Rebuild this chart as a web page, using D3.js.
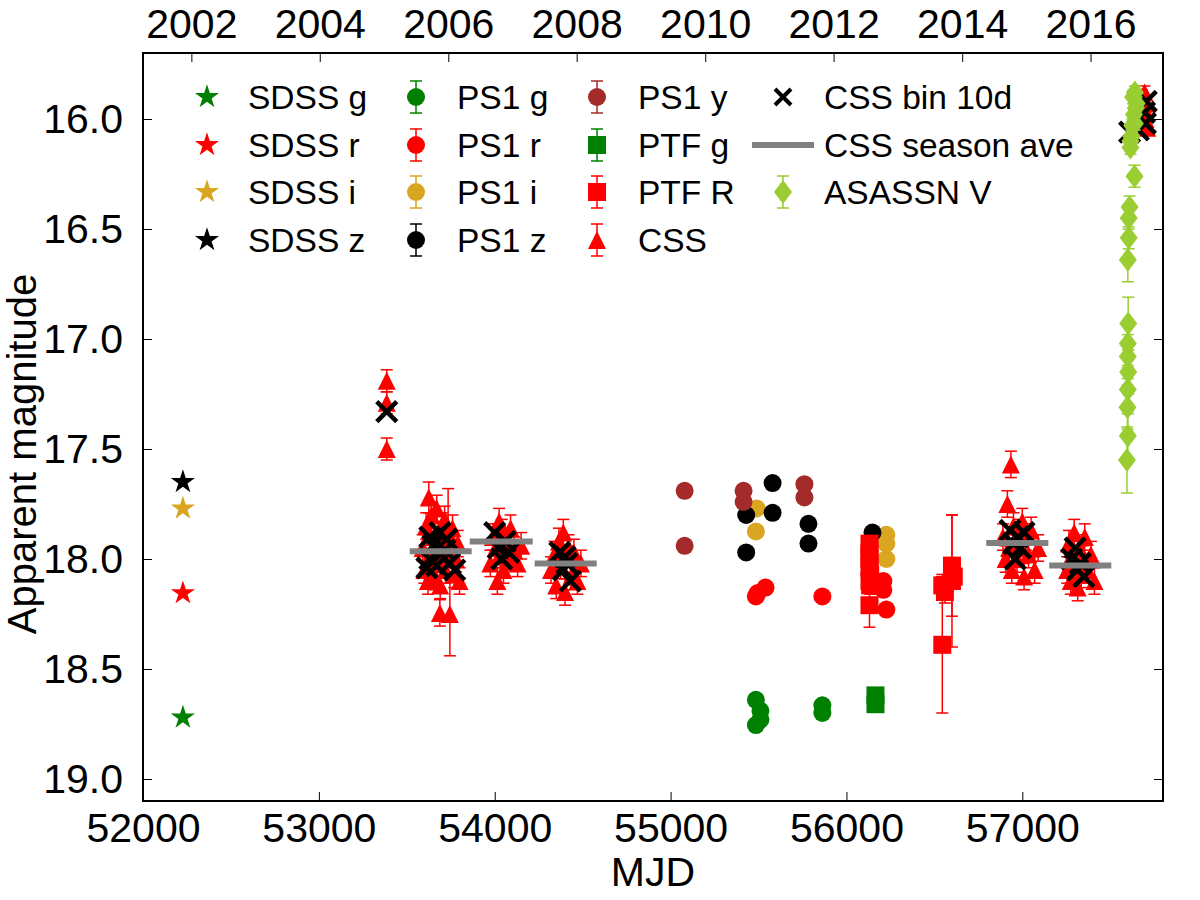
<!DOCTYPE html>
<html>
<head>
<meta charset="utf-8">
<script src="https://cdn.jsdelivr.net/npm/d3@7"></script>
<style>
  body { margin: 0; background: #fff; }
  svg text { font-family: "Liberation Sans", Arial, sans-serif; }
</style>
</head>
<body>
<svg id="chart" width="1200" height="900"></svg>
<script>
// light curve: MJD vs apparent magnitude

const xTicks = [52000, 53000, 54000, 55000, 56000, 57000];
const yTicks = [16.0, 16.5, 17.0, 17.5, 18.0, 18.5, 19.0];
const yearTicks = [2002, 2004, 2006, 2008, 2010, 2012, 2014, 2016];

// [mjd, mag]
const sdssG = [[52227, 18.72]];
const sdssR = [[52227, 18.155]];
const sdssI = [[52227, 17.77]];
const sdssZ = [[52227, 17.65]];

const ps1G = [[55485, 18.64], [55511, 18.69], [55511, 18.73], [55485, 18.755], [55863, 18.665], [55863, 18.70]];
const ps1R = [[55485, 18.17], [55540, 18.13], [55495, 18.155], [55863, 18.17], [56210, 18.10], [56210, 18.14], [56227, 18.23]];
const ps1I = [[55489, 17.77], [55485, 17.875], [56227, 17.89], [56227, 17.93], [56227, 18.0]];
const ps1Z = [[55580, 17.655], [55580, 17.79], [55430, 17.80], [55430, 17.97], [55784, 17.84], [55784, 17.93], [56148, 17.88]];
const ps1Y = [[55080, 17.69], [55080, 17.94], [55415, 17.69], [55415, 17.74], [55761, 17.66], [55761, 17.72]];

// [mjd, mag, err]
const ptfG = [[56165, 18.62, 0.02], [56165, 18.66, 0.02]];
const ptfR = [
  [56131, 17.93, 0.03], [56131, 17.97, 0.03], [56131, 18.0, 0.03], [56131, 18.04, 0.03],
  [56135, 18.07, 0.03], [56131, 18.1, 0.03], [56135, 18.12, 0.04], [56131, 18.21, 0.1],
  [56545, 18.39, 0.31], [56545, 18.12, 0.05], [56560, 18.15, 0.05], [56600, 18.03, 0.23],
  [56610, 18.08, 0.05], [56600, 18.1, 0.3]
];

const css = [
  [53386, 17.19, 0.05], [53386, 17.29, 0.05], [53386, 17.5, 0.05],
  [53590, 17.95, 0.06], [53600, 18.05, 0.06], [53610, 17.85, 0.06], [53620, 18.10, 0.06],
  [53625, 17.72, 0.07], [53635, 17.98, 0.06], [53640, 17.80, 0.06], [53650, 18.02, 0.06],
  [53655, 17.90, 0.06], [53660, 18.08, 0.06], [53670, 17.77, 0.06], [53680, 17.95, 0.06],
  [53690, 18.12, 0.06], [53700, 17.85, 0.06], [53705, 18.00, 0.06], [53715, 17.82, 0.06],
  [53720, 18.05, 0.06], [53730, 17.93, 0.06], [53735, 17.88, 0.2], [53745, 18.25, 0.19],
  [53688, 18.245, 0.06], [53750, 17.98, 0.06], [53760, 17.86, 0.06], [53770, 18.07, 0.06],
  [53780, 18.0, 0.06], [53790, 17.93, 0.06], [53800, 18.1, 0.06],
  [53975, 18.02, 0.06], [53990, 17.9, 0.06], [54005, 17.95, 0.06], [54015, 18.1, 0.06],
  [54025, 17.83, 0.06], [54030, 17.98, 0.06], [54040, 17.88, 0.06], [54050, 18.05, 0.06],
  [54060, 17.92, 0.06], [54075, 17.99, 0.06], [54090, 17.86, 0.06], [54110, 17.96, 0.06],
  [54130, 18.02, 0.06], [54150, 17.94, 0.06],
  [54320, 18.05, 0.06], [54340, 17.98, 0.06], [54350, 18.12, 0.06], [54365, 17.92, 0.06],
  [54375, 18.03, 0.06], [54390, 17.88, 0.06], [54400, 18.15, 0.06], [54410, 18.0, 0.06],
  [54420, 17.95, 0.06], [54435, 18.08, 0.06], [54450, 17.97, 0.06], [54470, 18.1, 0.06],
  [54490, 18.02, 0.06],
  [56890, 17.9, 0.06], [56905, 18.0, 0.06], [56915, 17.75, 0.06], [56925, 17.95, 0.06],
  [56935, 17.57, 0.06], [56940, 18.05, 0.06], [56950, 17.85, 0.06], [56960, 17.92, 0.06],
  [56970, 18.0, 0.06], [56980, 17.88, 0.06], [56990, 17.95, 0.06], [57000, 17.83, 0.06],
  [57010, 18.08, 0.06], [57020, 17.9, 0.06], [57035, 17.98, 0.06], [57050, 17.87, 0.06],
  [57070, 18.05, 0.06], [57090, 17.95, 0.06],
  [57255, 18.05, 0.06], [57265, 17.93, 0.06], [57275, 18.1, 0.06], [57285, 17.98, 0.06],
  [57295, 17.88, 0.06], [57305, 18.03, 0.06], [57315, 18.13, 0.06], [57325, 17.95, 0.06],
  [57335, 18.07, 0.06], [57345, 18.0, 0.06], [57355, 17.9, 0.06], [57370, 18.05, 0.06],
  [57390, 17.98, 0.06], [57410, 18.1, 0.06],
  [57680, 15.9, 0.03], [57690, 15.95, 0.03], [57700, 16.0, 0.03], [57705, 15.93, 0.03],
  [57710, 16.04, 0.03], [57695, 15.88, 0.03]
];

const cssBin = [
  [53386, 17.33],
  [53614, 18.04], [53631, 17.90], [53631, 18.0], [53648, 17.94], [53670, 18.03], [53688, 17.88],
  [53716, 17.96], [53727, 17.91], [53744, 18.02], [53773, 18.05],
  [54000, 17.88], [54020, 17.95], [54040, 18.0], [54060, 17.92], [54080, 17.97],
  [54370, 17.97], [54390, 18.05], [54410, 18.02], [54430, 18.1], [54400, 17.99],
  [56930, 17.87], [56950, 17.93], [56960, 18.0], [56975, 17.9], [56990, 17.95], [57010, 17.88],
  [57280, 18.0], [57300, 17.95], [57315, 18.05], [57330, 18.02], [57350, 18.08],
  [57610, 16.06], [57660, 16.05], [57695, 15.97], [57705, 15.92], [57700, 16.02]
];

// [start, end, mag]
const cssSeason = [
  [53517, 53869, 17.965], [53858, 54216, 17.92], [54227, 54580, 18.02],
  [56795, 57148, 17.927], [57153, 57506, 18.03]
];

const asassn = [
  [57640, 15.88, 0.03], [57650, 15.93, 0.03], [57635, 15.98, 0.03], [57625, 16.03, 0.03],
  [57620, 16.08, 0.03], [57615, 16.13, 0.03], [57640, 16.02, 0.03], [57630, 15.9, 0.03],
  [57615, 16.1, 0.03], [57645, 15.95, 0.03],
  [57638, 16.26, 0.05], [57610, 16.4, 0.05], [57605, 16.45, 0.05], [57605, 16.54, 0.05],
  [57600, 16.64, 0.1], [57602, 16.93, 0.12], [57600, 17.02, 0.1], [57600, 17.08, 0.1],
  [57602, 17.15, 0.1], [57600, 17.23, 0.1], [57598, 17.31, 0.1], [57600, 17.44, 0.1],
  [57595, 17.55, 0.15]
];

const C = {
  green: "#008000", red: "#ff0000", gold: "#daa520", black: "#000000",
  brown: "#a52a2a", lime: "#9acd32", gray: "#808080"
};

const W = 1200, H = 900;
const margin = { left: 143, right: 37, top: 53, bottom: 99 };
const svg = d3.select("#chart");

const x = d3.scaleLinear().domain([52000, 57800]).range([margin.left, W - margin.right]);
const y = d3.scaleLinear().domain([15.7, 19.1]).range([margin.top, H - margin.bottom]);
const mjdOfYear = (yr) => (Date.UTC(yr, 0, 1) - Date.UTC(1858, 10, 17)) / 86400000;

const plot = svg.append("g");

// marker shapes
const starPath = d3.symbol(d3.symbolStar, 180)();
const circlePath = d3.symbol(d3.symbolCircle, Math.PI * 81)();
const trianglePath = "M0,-9L9,9L-9,9Z";
const squarePath = "M-9,-9H9V9H-9Z";
const diamondPath = "M0,-12L9,0L0,12L-9,0Z";
const crossPath = "M-10,-10L10,10M-10,10L10,-10";

function errorbars(g, data, color, cap = 6) {
  const eb = g.append("g").attr("stroke", color).attr("stroke-width", 1.5);
  data.forEach((d) => {
    const y1 = y(d[1] - d[2]), y2 = y(d[1] + d[2]), cx = x(d[0]);
    eb.append("line").attr("x1", cx).attr("x2", cx).attr("y1", y1).attr("y2", y2);
    eb.append("line").attr("x1", cx - cap).attr("x2", cx + cap).attr("y1", y1).attr("y2", y1);
    eb.append("line").attr("x1", cx - cap).attr("x2", cx + cap).attr("y1", y2).attr("y2", y2);
  });
}

function markers(g, data, path, color) {
  g.append("g").selectAll("path").data(data).enter().append("path")
    .attr("d", path)
    .attr("fill", color)
    .attr("transform", (d) => `translate(${x(d[0])},${y(d[1])})`);
}

markers(plot, sdssG, starPath, C.green);
markers(plot, sdssR, starPath, C.red);
markers(plot, sdssI, starPath, C.gold);
markers(plot, sdssZ, starPath, C.black);
markers(plot, ps1G, circlePath, C.green);
markers(plot, ps1R, circlePath, C.red);
markers(plot, ps1I, circlePath, C.gold);
markers(plot, ps1Z, circlePath, C.black);
markers(plot, ps1Y, circlePath, C.brown);
errorbars(plot, ptfG, C.green);
markers(plot, ptfG, squarePath, C.green);
errorbars(plot, ptfR, C.red);
markers(plot, ptfR, squarePath, C.red);
errorbars(plot, css, C.red);
markers(plot, css, trianglePath, C.red);

plot.append("g").selectAll("path").data(cssBin).enter().append("path")
  .attr("d", crossPath)
  .attr("stroke", C.black).attr("stroke-width", 4.5).attr("fill", "none")
  .attr("transform", (d) => `translate(${x(d[0])},${y(d[1])})`);

plot.append("g").selectAll("line").data(cssSeason).enter().append("line")
  .attr("x1", (d) => x(d[0])).attr("x2", (d) => x(d[1]))
  .attr("y1", (d) => y(d[2])).attr("y2", (d) => y(d[2]))
  .attr("stroke", C.gray).attr("stroke-width", 6);

errorbars(plot, asassn, C.lime);
markers(plot, asassn, diamondPath, C.lime);

// axes (ticks inward)
const fontAx = 41;
const axB = svg.append("g").attr("transform", `translate(0,${H - margin.bottom})`)
  .call(d3.axisBottom(x).tickValues(xTicks).tickSizeInner(-9).tickSizeOuter(0).tickPadding(12).tickFormat(d3.format("d")));
const axT = svg.append("g").attr("transform", `translate(0,${margin.top})`)
  .call(d3.axisTop(x).tickValues(yearTicks.map(mjdOfYear)).tickSizeInner(-9).tickSizeOuter(0).tickPadding(15)
    .tickFormat((d, i) => yearTicks[i]));
const axL = svg.append("g").attr("transform", `translate(${margin.left},0)`)
  .call(d3.axisLeft(y).tickValues(yTicks).tickSizeInner(-9).tickSizeOuter(0).tickPadding(20).tickFormat(d3.format(".1f")));
const axR = svg.append("g").attr("transform", `translate(${W - margin.right},0)`)
  .call(d3.axisRight(y).tickValues(yTicks).tickSizeInner(-9).tickSizeOuter(0).tickFormat(""));
[axB, axT, axL, axR].forEach((a) => {
  a.select(".domain").remove();
  a.selectAll("text").attr("font-size", fontAx).attr("fill", "#000")
    .style("font-family", '"Liberation Sans", Arial, sans-serif');
  a.selectAll("line").attr("stroke", "#000").attr("stroke-width", 1);
});

svg.append("rect")
  .attr("x", margin.left).attr("y", margin.top)
  .attr("width", W - margin.left - margin.right).attr("height", H - margin.top - margin.bottom)
  .attr("fill", "none").attr("stroke", "#000").attr("stroke-width", 2);

svg.append("text").attr("x", (margin.left + W - margin.right) / 2).attr("y", 886)
  .attr("text-anchor", "middle").attr("font-size", fontAx).text("MJD");
svg.append("text")
  .attr("transform", `translate(36,454) rotate(-90)`)
  .attr("text-anchor", "middle").attr("font-size", 40).text("Apparent magnitude");

// legend, filled column by column
const legendItems = [
  ["SDSS g", "star", C.green], ["SDSS r", "star", C.red], ["SDSS i", "star", C.gold], ["SDSS z", "star", C.black],
  ["PS1 g", "circle", C.green], ["PS1 r", "circle", C.red], ["PS1 i", "circle", C.gold], ["PS1 z", "circle", C.black],
  ["PS1 y", "circle", C.brown], ["PTF g", "square", C.green], ["PTF R", "square", C.red], ["CSS", "triangle", C.red],
  ["CSS bin 10d", "cross", C.black], ["CSS season ave", "line", C.gray], ["ASASSN V", "diamond", C.lime]
];
const legMarkX = [207, 416, 597, 783];
const legRowY = [97, 145, 192, 240];
const withBars = new Set(["circle", "square", "triangle", "diamond"]);
const shapes = { star: starPath, circle: circlePath, square: squarePath, triangle: trianglePath, diamond: diamondPath };
const leg = svg.append("g");
legendItems.forEach(([label, type, color], i) => {
  const col = Math.floor(i / 4), row = i % 4;
  const mx = legMarkX[col], my = legRowY[row];
  const g = leg.append("g").attr("transform", `translate(${mx},${my})`);
  if (withBars.has(type)) {
    const eb = g.append("g").attr("stroke", color).attr("stroke-width", 1.5);
    eb.append("line").attr("y1", -16).attr("y2", 16);
    eb.append("line").attr("x1", -6).attr("x2", 6).attr("y1", -16).attr("y2", -16);
    eb.append("line").attr("x1", -6).attr("x2", 6).attr("y1", 16).attr("y2", 16);
  }
  if (type === "cross") {
    g.append("path").attr("d", "M-8,-8L8,8M-8,8L8,-8").attr("stroke", color).attr("stroke-width", 4);
  } else if (type === "line") {
    g.append("line").attr("x1", -31).attr("x2", 31).attr("stroke", color).attr("stroke-width", 6);
  } else {
    g.append("path").attr("d", shapes[type]).attr("fill", color);
  }
  leg.append("text").attr("x", mx + 41).attr("y", my).attr("dy", "0.36em")
    .attr("font-size", 33.5).text(label);
});
</script>
</body>
</html>
